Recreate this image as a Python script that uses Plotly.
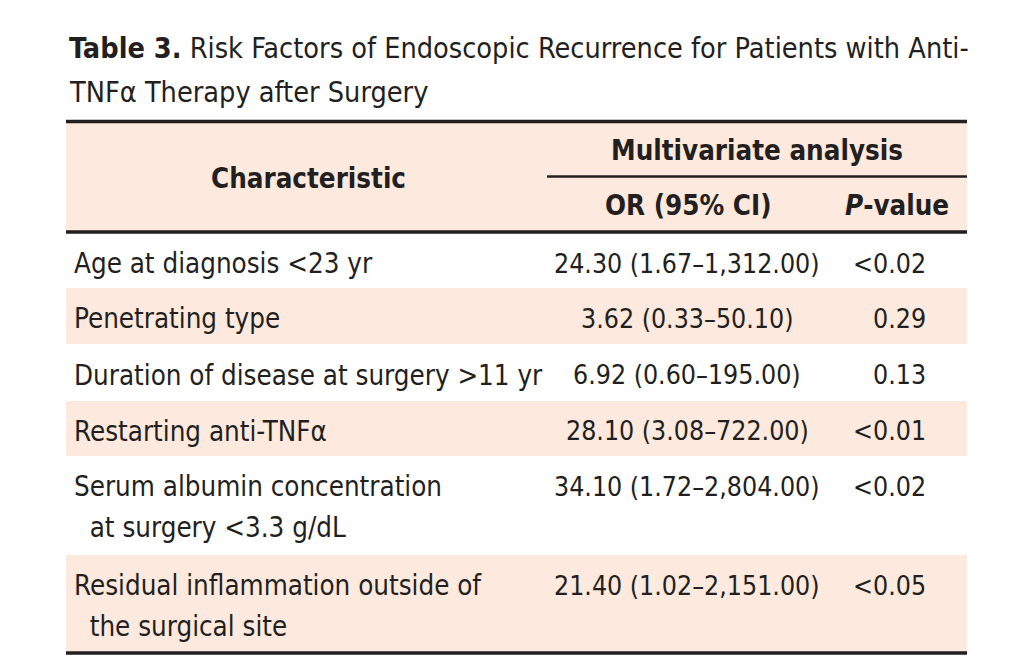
import plotly.graph_objects as go

# table content
characteristics = [
    ["Age at diagnosis <23 yr"],
    ["Penetrating type"],
    ["Duration of disease at surgery >11 yr"],
    ["Restarting anti-TNFα"],
    ["Serum albumin concentration", "  at surgery <3.3 g/dL"],
    ["Residual inflammation outside of", "  the surgical site"],
]
or_ci = [
    "24.30 (1.67–1,312.00)",
    "3.62 (0.33–50.10)",
    "6.92 (0.60–195.00)",
    "28.10 (3.08–722.00)",
    "34.10 (1.72–2,804.00)",
    "21.40 (1.02–2,151.00)",
]
p_values = ["<0.02", "0.29", "0.13", "<0.01", "<0.02", "<0.05"]

title_lines = [
    "<b>Table 3.</b> Risk Factors of Endoscopic Recurrence for Patients with Anti-",
    "TNFα Therapy after Surgery",
]
header_group = "Multivariate analysis"
header_cols = ["Characteristic", "OR (95% CI)", "<i>P</i>-value"]

FONT = "Liberation Sans Narrow, DejaVu Sans Condensed, Arial Narrow, sans-serif"
PINK = "#fde9dd"
INK = "#231f20"
LEFT, RIGHT = 66, 967
row_edges = [234, 288, 344, 401, 456, 555, 652]
line_gap = 41
PAGE_MARGIN = 8  # default body margin of the html page

fig = go.Figure()
shapes = []
annotations = []


def text(x, y, s, anchor="left", size=28, bold=False):
    annotations.append(dict(
        x=x, y=y, xref="x", yref="y", text=f"<b>{s}</b>" if bold else s,
        xanchor=anchor, yanchor="middle", showarrow=False,
        font=dict(family=FONT, size=size, color=INK),
    ))


# header band and striped rows
shapes.append(dict(type="rect", x0=LEFT, x1=RIGHT, y0=121, y1=232,
                   fillcolor=PINK, line_width=0, layer="below"))
for i in range(len(characteristics)):
    if i % 2 == 1:
        shapes.append(dict(type="rect", x0=LEFT, x1=RIGHT, y0=row_edges[i],
                           y1=row_edges[i + 1], fillcolor=PINK, line_width=0,
                           layer="below"))

# rules
for y, w in [(121.5, 3.5), (232, 3.5), (653, 3.5)]:
    shapes.append(dict(type="line", x0=LEFT, x1=RIGHT, y0=y, y1=y,
                       line=dict(color=INK, width=w)))
shapes.append(dict(type="line", x0=547, x1=RIGHT, y0=176.5, y1=176.5,
                   line=dict(color=INK, width=2.5)))

# title
text(67, 48, title_lines[0], size=28.6)
text(67, 92, title_lines[1], size=28.6)

# header
text(308, 178, header_cols[0], anchor="center", size=27.5, bold=True)
text(757, 150, header_group, anchor="center", size=27.5, bold=True)
text(688, 205, header_cols[1], anchor="center", size=27.5, bold=True)
text(897, 205, header_cols[2], anchor="center", size=27.5, bold=True)

# body
for i, lines in enumerate(characteristics):
    top = row_edges[i]
    y0 = (top + row_edges[i + 1]) / 2 + 2 if len(lines) == 1 else top + 30
    for j, s in enumerate(lines):
        text(72, y0 + j * line_gap, s.replace("  ", "&nbsp;&nbsp;"), size=27.5)
    text(687, y0, or_ci[i], anchor="center", size=26.5)
    text(928, y0, p_values[i], anchor="right", size=26.5)

fig.update_layout(
    width=1024 - PAGE_MARGIN, height=662 - PAGE_MARGIN,
    margin=dict(l=0, r=0, t=0, b=0),
    paper_bgcolor="white", plot_bgcolor="white",
    xaxis=dict(range=[PAGE_MARGIN, 1024], visible=False, fixedrange=True),
    yaxis=dict(range=[662, PAGE_MARGIN], visible=False, fixedrange=True),
    shapes=shapes, annotations=annotations, showlegend=False,
)
fig.write_html("out.html", config={"displayModeBar": False})
